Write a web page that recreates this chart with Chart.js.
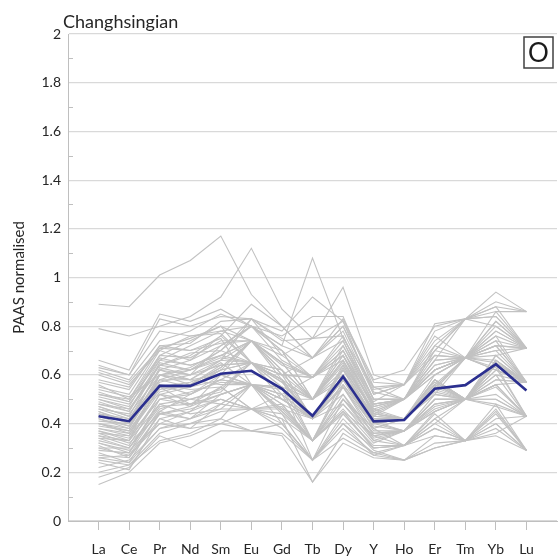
<!DOCTYPE html>
<html>
<head>
<meta charset="utf-8">
<script src="https://cdn.jsdelivr.net/npm/chart.js@4/dist/chart.umd.min.js"></script>
<style>
  html, body { margin: 0; padding: 0; background: #ffffff; }
  #wrap { width: 558px; height: 559px; position: relative; }
</style>
</head>
<body>
<div id="wrap"><canvas id="c" width="558" height="559"></canvas></div>
<script>
// Rare earth elements (plus Y), in plotting order
const elements = ['La', 'Ce', 'Pr', 'Nd', 'Sm', 'Eu', 'Gd', 'Tb', 'Dy', 'Y', 'Ho', 'Er', 'Tm', 'Yb', 'Lu'];

// y-axis tick values
const yTicks = [0, 0.2, 0.4, 0.6, 0.8, 1, 1.2, 1.4, 1.6, 1.8, 2];

// Mean PAAS-normalised pattern of all Changhsingian samples
const meanPattern = [0.43, 0.41, 0.555, 0.555, 0.605, 0.617, 0.543, 0.432, 0.593, 0.409, 0.415, 0.543, 0.558, 0.644, 0.536];

// Individual sample patterns [La, Ce, Pr, Nd, Sm, Eu, Gd, Tb, Dy, Y, Ho, Er, Tm, Yb, Lu]
const samples = [
  [0.89, 0.88, 1.01, 1.07, 1.17, 0.93, 0.80, 0.67, 0.83, 0.58, 0.62, 0.80, 0.83, 0.94, 0.86],
  [0.79, 0.76, 0.80, 0.84, 0.92, 1.12, 0.87, 0.75, 0.96, 0.60, 0.56, 0.78, 0.83, 0.90, 0.86],
  [0.66, 0.62, 0.85, 0.82, 0.87, 0.80, 0.72, 1.08, 0.75, 0.55, 0.50, 0.72, 0.67, 0.86, 0.71],
  [0.64, 0.60, 0.83, 0.80, 0.84, 0.83, 0.78, 0.92, 0.82, 0.57, 0.56, 0.81, 0.83, 0.88, 0.71],
  [0.15, 0.20, 0.32, 0.35, 0.40, 0.46, 0.38, 0.25, 0.40, 0.27, 0.31, 0.35, 0.33, 0.40, 0.29],
  [0.18, 0.22, 0.35, 0.30, 0.37, 0.37, 0.35, 0.16, 0.32, 0.26, 0.25, 0.30, 0.33, 0.35, 0.29],
  [0.22, 0.25, 0.38, 0.40, 0.45, 0.46, 0.42, 0.33, 0.45, 0.30, 0.31, 0.40, 0.50, 0.47, 0.43],
  [0.24, 0.21, 0.42, 0.38, 0.48, 0.56, 0.40, 0.25, 0.38, 0.28, 0.31, 0.38, 0.33, 0.44, 0.29],
  [0.26, 0.27, 0.40, 0.45, 0.50, 0.46, 0.47, 0.33, 0.52, 0.33, 0.37, 0.45, 0.50, 0.55, 0.43],
  [0.28, 0.24, 0.45, 0.42, 0.52, 0.56, 0.50, 0.42, 0.55, 0.35, 0.37, 0.48, 0.50, 0.58, 0.57],
  [0.30, 0.30, 0.47, 0.48, 0.55, 0.65, 0.52, 0.42, 0.58, 0.38, 0.42, 0.52, 0.50, 0.62, 0.57],
  [0.32, 0.28, 0.50, 0.52, 0.58, 0.56, 0.48, 0.33, 0.50, 0.36, 0.37, 0.47, 0.50, 0.56, 0.43],
  [0.34, 0.33, 0.48, 0.50, 0.53, 0.65, 0.55, 0.50, 0.60, 0.40, 0.42, 0.55, 0.67, 0.65, 0.57],
  [0.35, 0.31, 0.52, 0.47, 0.60, 0.56, 0.50, 0.42, 0.55, 0.37, 0.37, 0.50, 0.50, 0.60, 0.57],
  [0.36, 0.35, 0.55, 0.55, 0.62, 0.65, 0.58, 0.50, 0.64, 0.42, 0.42, 0.58, 0.50, 0.68, 0.57],
  [0.37, 0.34, 0.50, 0.53, 0.57, 0.56, 0.52, 0.33, 0.55, 0.39, 0.37, 0.52, 0.67, 0.63, 0.43],
  [0.38, 0.36, 0.53, 0.56, 0.63, 0.74, 0.60, 0.59, 0.68, 0.43, 0.50, 0.60, 0.67, 0.72, 0.71],
  [0.39, 0.37, 0.56, 0.52, 0.58, 0.65, 0.50, 0.42, 0.60, 0.40, 0.42, 0.54, 0.50, 0.62, 0.57],
  [0.40, 0.38, 0.58, 0.58, 0.65, 0.56, 0.55, 0.33, 0.58, 0.41, 0.37, 0.50, 0.50, 0.60, 0.43],
  [0.40, 0.36, 0.55, 0.57, 0.62, 0.65, 0.57, 0.50, 0.62, 0.42, 0.42, 0.56, 0.67, 0.66, 0.57],
  [0.41, 0.40, 0.60, 0.56, 0.63, 0.74, 0.58, 0.42, 0.63, 0.43, 0.42, 0.57, 0.50, 0.64, 0.57],
  [0.42, 0.39, 0.57, 0.60, 0.66, 0.65, 0.60, 0.50, 0.65, 0.44, 0.50, 0.60, 0.67, 0.70, 0.57],
  [0.43, 0.41, 0.62, 0.58, 0.60, 0.56, 0.52, 0.42, 0.58, 0.40, 0.42, 0.53, 0.50, 0.64, 0.57],
  [0.44, 0.42, 0.58, 0.62, 0.68, 0.74, 0.62, 0.50, 0.68, 0.45, 0.50, 0.62, 0.67, 0.74, 0.71],
  [0.45, 0.40, 0.63, 0.60, 0.64, 0.65, 0.57, 0.42, 0.62, 0.42, 0.42, 0.56, 0.50, 0.65, 0.57],
  [0.46, 0.44, 0.60, 0.63, 0.70, 0.65, 0.60, 0.59, 0.70, 0.46, 0.50, 0.62, 0.67, 0.72, 0.57],
  [0.47, 0.43, 0.65, 0.62, 0.66, 0.74, 0.65, 0.50, 0.66, 0.44, 0.42, 0.58, 0.50, 0.66, 0.57],
  [0.48, 0.46, 0.62, 0.66, 0.72, 0.80, 0.66, 0.59, 0.72, 0.48, 0.50, 0.64, 0.67, 0.76, 0.71],
  [0.49, 0.45, 0.66, 0.64, 0.68, 0.65, 0.58, 0.42, 0.60, 0.43, 0.42, 0.55, 0.50, 0.64, 0.43],
  [0.50, 0.47, 0.68, 0.67, 0.74, 0.74, 0.68, 0.59, 0.74, 0.50, 0.50, 0.66, 0.67, 0.78, 0.71],
  [0.51, 0.48, 0.64, 0.69, 0.70, 0.80, 0.70, 0.50, 0.70, 0.47, 0.50, 0.62, 0.67, 0.72, 0.57],
  [0.52, 0.50, 0.70, 0.66, 0.76, 0.65, 0.62, 0.42, 0.64, 0.45, 0.42, 0.58, 0.50, 0.68, 0.57],
  [0.53, 0.49, 0.66, 0.72, 0.78, 0.80, 0.72, 0.67, 0.78, 0.52, 0.56, 0.70, 0.67, 0.82, 0.71],
  [0.55, 0.52, 0.71, 0.70, 0.73, 0.74, 0.65, 0.50, 0.68, 0.48, 0.50, 0.64, 0.67, 0.74, 0.57],
  [0.56, 0.50, 0.68, 0.74, 0.80, 0.74, 0.70, 0.59, 0.76, 0.50, 0.50, 0.68, 0.67, 0.80, 0.71],
  [0.58, 0.55, 0.72, 0.73, 0.82, 0.83, 0.75, 0.67, 0.80, 0.54, 0.56, 0.72, 0.83, 0.84, 0.71],
  [0.60, 0.56, 0.70, 0.76, 0.77, 0.65, 0.60, 0.42, 0.62, 0.46, 0.42, 0.58, 0.50, 0.66, 0.57],
  [0.62, 0.58, 0.74, 0.78, 0.85, 0.80, 0.70, 0.50, 0.72, 0.50, 0.50, 0.66, 0.67, 0.78, 0.71],
  [0.54, 0.51, 0.60, 0.58, 0.56, 0.56, 0.48, 0.33, 0.45, 0.35, 0.31, 0.42, 0.33, 0.45, 0.29],
  [0.47, 0.43, 0.52, 0.50, 0.48, 0.46, 0.40, 0.25, 0.40, 0.30, 0.31, 0.38, 0.33, 0.42, 0.43],
  [0.44, 0.40, 0.55, 0.48, 0.52, 0.56, 0.45, 0.33, 0.48, 0.33, 0.31, 0.45, 0.50, 0.50, 0.43],
  [0.36, 0.32, 0.44, 0.46, 0.50, 0.46, 0.44, 0.25, 0.44, 0.31, 0.31, 0.40, 0.33, 0.46, 0.29],
  [0.33, 0.30, 0.48, 0.44, 0.46, 0.56, 0.46, 0.33, 0.50, 0.34, 0.37, 0.46, 0.50, 0.52, 0.43],
  [0.31, 0.26, 0.42, 0.45, 0.55, 0.46, 0.48, 0.42, 0.52, 0.36, 0.37, 0.48, 0.50, 0.56, 0.43],
  [0.29, 0.28, 0.46, 0.50, 0.54, 0.65, 0.55, 0.42, 0.58, 0.38, 0.42, 0.55, 0.67, 0.62, 0.57],
  [0.27, 0.26, 0.44, 0.42, 0.48, 0.56, 0.44, 0.33, 0.46, 0.32, 0.37, 0.45, 0.50, 0.50, 0.43],
  [0.25, 0.23, 0.36, 0.40, 0.42, 0.37, 0.40, 0.25, 0.42, 0.29, 0.25, 0.35, 0.33, 0.38, 0.29],
  [0.42, 0.38, 0.60, 0.62, 0.70, 0.83, 0.74, 0.75, 0.82, 0.52, 0.56, 0.74, 0.83, 0.86, 0.86],
  [0.46, 0.42, 0.62, 0.60, 0.72, 0.80, 0.76, 0.84, 0.84, 0.55, 0.56, 0.76, 0.67, 0.82, 0.71],
  [0.50, 0.46, 0.64, 0.68, 0.76, 0.89, 0.80, 0.67, 0.80, 0.53, 0.50, 0.70, 0.83, 0.88, 0.86],
  [0.38, 0.35, 0.50, 0.48, 0.50, 0.46, 0.52, 0.59, 0.66, 0.45, 0.50, 0.62, 0.67, 0.70, 0.71],
  [0.34, 0.30, 0.45, 0.52, 0.60, 0.74, 0.60, 0.67, 0.74, 0.48, 0.50, 0.66, 0.83, 0.80, 0.71],
  [0.57, 0.54, 0.72, 0.70, 0.75, 0.56, 0.55, 0.25, 0.50, 0.38, 0.31, 0.44, 0.33, 0.48, 0.29],
  [0.61, 0.57, 0.71, 0.75, 0.80, 0.65, 0.58, 0.33, 0.56, 0.40, 0.37, 0.50, 0.50, 0.56, 0.43],
  [0.45, 0.41, 0.56, 0.54, 0.55, 0.46, 0.42, 0.16, 0.36, 0.28, 0.25, 0.32, 0.33, 0.40, 0.29],
  [0.32, 0.29, 0.40, 0.38, 0.40, 0.37, 0.36, 0.25, 0.34, 0.27, 0.25, 0.30, 0.33, 0.36, 0.43],
  [0.52, 0.49, 0.67, 0.64, 0.68, 0.74, 0.64, 0.59, 0.70, 0.49, 0.56, 0.68, 0.67, 0.76, 0.57],
  [0.40, 0.37, 0.54, 0.56, 0.64, 0.65, 0.62, 0.50, 0.66, 0.44, 0.42, 0.60, 0.67, 0.68, 0.71],
  [0.35, 0.33, 0.52, 0.55, 0.58, 0.56, 0.54, 0.42, 0.56, 0.40, 0.42, 0.52, 0.50, 0.58, 0.57],
  [0.43, 0.39, 0.58, 0.55, 0.62, 0.74, 0.65, 0.59, 0.68, 0.47, 0.50, 0.62, 0.67, 0.72, 0.71],
  [0.48, 0.45, 0.64, 0.62, 0.67, 0.65, 0.58, 0.42, 0.60, 0.42, 0.42, 0.56, 0.50, 0.64, 0.57],
  [0.30, 0.27, 0.44, 0.47, 0.52, 0.56, 0.50, 0.50, 0.58, 0.40, 0.42, 0.54, 0.67, 0.62, 0.57],
  [0.63, 0.60, 0.78, 0.76, 0.78, 0.74, 0.62, 0.42, 0.60, 0.44, 0.42, 0.58, 0.50, 0.64, 0.57],
  [0.37, 0.33, 0.60, 0.58, 0.66, 0.83, 0.68, 0.75, 0.76, 0.50, 0.50, 0.70, 0.83, 0.84, 0.71],
  [0.26, 0.24, 0.38, 0.42, 0.46, 0.46, 0.46, 0.42, 0.48, 0.35, 0.37, 0.50, 0.50, 0.56, 0.57],
  [0.20, 0.23, 0.33, 0.36, 0.42, 0.56, 0.45, 0.33, 0.44, 0.30, 0.31, 0.42, 0.50, 0.48, 0.43]
];

const panelTitle = 'Changhsingian';
const panelLetter = 'O';
const yAxisTitle = 'PAAS normalised';

const FONT = 'Lato, "Open Sans", "DejaVu Sans", sans-serif';
const GRID = '#d9d9d9';
const AXIS = '#bfbfbf';
const TEXT = '#262626';

// Elements sit at x = 1..15 on a 0..16 linear axis
const toPoints = vals => vals.map((v, i) => ({ x: i + 1, y: v }));

const datasets = [
  {
    label: 'Mean',
    data: toPoints(meanPattern),
    borderColor: '#2b2f8f',
    borderWidth: 2.6,
    pointRadius: 0,
    tension: 0,
    order: 0
  },
  ...samples.map((s, k) => ({
    label: 'Sample ' + (k + 1),
    data: toPoints(s),
    borderColor: '#c2c2c2',
    borderWidth: 1.1,
    pointRadius: 0,
    tension: 0,
    order: 1
  }))
];

// White background, panel title, panel letter box and minor y ticks
const decorations = {
  id: 'decorations',
  beforeDraw(chart) {
    const { ctx, width, height } = chart;
    ctx.save();
    ctx.fillStyle = '#ffffff';
    ctx.fillRect(0, 0, width, height);
    ctx.restore();
  },
  afterDraw(chart) {
    const { ctx, chartArea } = chart;
    const y = chart.scales.y;
    ctx.save();
    // minor ticks at the odd tenths
    ctx.strokeStyle = AXIS;
    ctx.lineWidth = 1;
    for (let i = 0; i < yTicks.length - 1; i++) {
      const py = Math.round(y.getPixelForValue((yTicks[i] + yTicks[i + 1]) / 2)) + 0.5;
      ctx.beginPath();
      ctx.moveTo(chartArea.left, py);
      ctx.lineTo(chartArea.left + 5, py);
      ctx.stroke();
    }
    // panel title
    ctx.fillStyle = TEXT;
    ctx.font = '18px ' + FONT;
    ctx.textAlign = 'left';
    ctx.textBaseline = 'alphabetic';
    ctx.fillText(panelTitle, chartArea.left - 5, 28);
    // panel letter in a box
    const bx = chartArea.right - 33, by = chartArea.top + 3, bw = 29, bh = 31;
    ctx.fillStyle = '#ffffff';
    ctx.fillRect(bx, by, bw, bh);
    ctx.strokeStyle = '#404040';
    ctx.lineWidth = 1.5;
    ctx.strokeRect(bx, by, bw, bh);
    ctx.fillStyle = '#1a1a1a';
    ctx.font = '26px ' + FONT;
    ctx.textAlign = 'center';
    ctx.textBaseline = 'middle';
    ctx.fillText(panelLetter, bx + bw / 2, by + bh / 2 + 1);
    ctx.restore();
  }
};

new Chart(document.getElementById('c'), {
  type: 'line',
  data: { datasets },
  options: {
    responsive: false,
    animation: false,
    events: [],
    layout: { padding: { top: 34, right: 1, bottom: 0, left: 0 } },
    plugins: {
      legend: { display: false },
      tooltip: { enabled: false },
      title: { display: false }
    },
    scales: {
      x: {
        type: 'linear',
        min: 0,
        max: 16,
        afterBuildTicks(scale) {
          const t = [];
          for (let i = 0; i <= elements.length + 1; i++) t.push({ value: i });
          scale.ticks = t;
        },
        afterFit(scale) {
          scale.height = 38;
          scale.paddingLeft = 0;
          scale.paddingRight = 0;
        },
        ticks: {
          autoSkip: false,
          maxRotation: 0,
          padding: 11,
          color: TEXT,
          font: { family: FONT, size: 14 },
          callback: v => elements[v - 1] || ''
        },
        grid: {
          drawOnChartArea: false,
          drawTicks: true,
          tickLength: 9,
          tickColor: ctx => (ctx.tick && ctx.tick.value >= 1 && ctx.tick.value <= elements.length) ? AXIS : 'rgba(0,0,0,0)'
        },
        border: { display: true, color: AXIS, width: 1 }
      },
      y: {
        type: 'linear',
        min: 0,
        max: 2,
        afterBuildTicks(scale) {
          scale.ticks = yTicks.map(v => ({ value: v }));
        },
        afterFit(scale) {
          scale.width = 68;
          scale.paddingTop = 0;
          scale.paddingBottom = 0;
        },
        ticks: {
          padding: 7,
          color: TEXT,
          font: { family: FONT, size: 14 },
          callback: v => String(Number(v.toFixed(1)))
        },
        grid: {
          color: GRID,
          lineWidth: 1.2,
          drawTicks: false
        },
        border: { display: true, color: AXIS, width: 1 },
        title: {
          display: true,
          text: yAxisTitle,
          color: TEXT,
          font: { family: FONT, size: 15 },
          padding: { top: 10, bottom: 0 }
        }
      }
    }
  },
  plugins: [decorations]
});
</script>
</body>
</html>
